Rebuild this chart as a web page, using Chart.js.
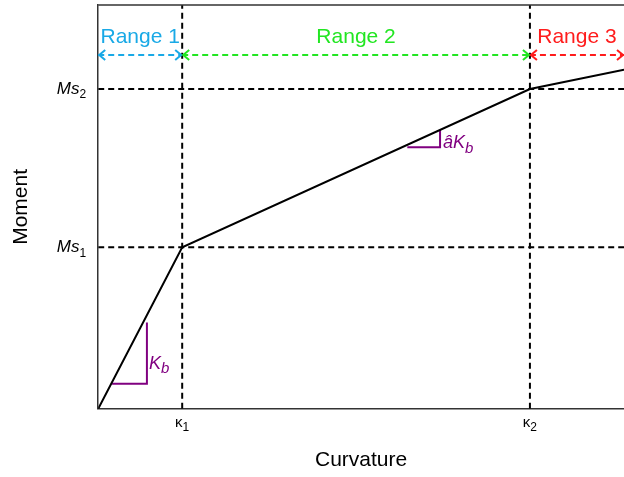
<!DOCTYPE html>
<html>
<head>
<meta charset="utf-8">
<script src="https://cdn.jsdelivr.net/npm/chart.js@4.4.1/dist/chart.umd.min.js"></script>
<style>
  html, body { margin: 0; padding: 0; background: #fff; }
  #wrap { width: 624px; height: 477px; position: relative; }
</style>
</head>
<body>
<div id="wrap"><canvas id="mk"></canvas></div>
<script>
// moment-curvature backbone (normalised so that kappa1 = 1 and Ms1 = 1)
const curveX = [0, 1, 5.14, 6.26];
const curveY = [0, 1, 1.98, 2.10];

// characteristic points on the axes
const kappaTicks = [1, 5.14];
const kappaSubs = ['1', '2'];
const momentTicks = [1, 1.98];
const momentSubs = ['1', '2'];

// ranges shown along the top
const rangeNames = ['Range 1', 'Range 2', 'Range 3'];
const rangeStart = [0, 1, 5.14];
const rangeEnd = [1, 5.14, 6.26];
const rangeColors = ['#19a9e6', '#22e622', '#ff1c1c'];
const rangeLevel = 2.19;

// slope triangles: horizontal leg [x0, x1] at y0, vertical leg up to y1
const kbX = [0.165, 0.58];
const kbY = [0.155, 0.534];
const akbX = [3.68, 4.07];
const akbY = [1.62, 1.727];

const xMax = 6.26;
const yMax = 2.5;

const family = '"Liberation Sans", Arial, sans-serif';
const axisColor = '#333';
const purple = '#800080';

function arrowHead(ctx, px, py, dir) {
    ctx.beginPath();
    ctx.moveTo(px - dir * 6, py - 5);
    ctx.lineTo(px, py);
    ctx.lineTo(px - dir * 6, py + 5);
    ctx.stroke();
}

function subText(ctx, main, sub, px, py, size, subSize, italic, subItalic, align) {
    const mf = (italic ? 'italic ' : '') + size + 'px ' + family;
    const sf = (subItalic ? 'italic ' : '') + subSize + 'px ' + family;
    ctx.font = mf;
    const mw = ctx.measureText(main).width;
    ctx.font = sf;
    const sw = ctx.measureText(sub).width;
    let start = px;
    if (align === 'right') start = px - mw - sw;
    if (align === 'center') start = px - (mw + sw) / 2;
    ctx.textAlign = 'left';
    ctx.textBaseline = 'alphabetic';
    ctx.font = mf;
    ctx.fillText(main, start, py);
    ctx.font = sf;
    ctx.fillText(sub, start + mw, py + size * 0.26);
}

const annotations = {
    id: 'annotations',
    afterDatasetsDraw(chart) {
        const { ctx, chartArea, scales: { x, y } } = chart;
        ctx.save();

        // top frame line
        ctx.strokeStyle = axisColor;
        ctx.lineWidth = 1.5;
        ctx.beginPath();
        ctx.moveTo(chartArea.left, chartArea.top);
        ctx.lineTo(chartArea.right, chartArea.top);
        ctx.stroke();

        // arrow heads and range names
        const ay = y.getPixelForValue(rangeLevel);
        rangeNames.forEach((name, i) => {
            const x0 = x.getPixelForValue(rangeStart[i]);
            const x1 = x.getPixelForValue(rangeEnd[i]);
            ctx.strokeStyle = rangeColors[i];
            ctx.lineWidth = 2;
            arrowHead(ctx, x0 + 1, ay, -1);
            arrowHead(ctx, x1 - 1, ay, 1);
            ctx.fillStyle = rangeColors[i];
            ctx.font = '21px ' + family;
            ctx.textAlign = 'center';
            ctx.textBaseline = 'alphabetic';
            ctx.fillText(name, (x0 + x1) / 2, ay - 12);
        });

        // axis labels for the characteristic points
        ctx.fillStyle = '#000';
        kappaTicks.forEach((k, i) => {
            subText(ctx, 'κ', kappaSubs[i], x.getPixelForValue(k), chartArea.bottom + 18, 15, 12, false, false, 'center');
        });
        momentTicks.forEach((m, i) => {
            subText(ctx, 'Ms', momentSubs[i], chartArea.left - 12, y.getPixelForValue(m) + 5, 17, 12, true, false, 'right');
        });

        // slope labels
        ctx.fillStyle = purple;
        subText(ctx, 'K', 'b', x.getPixelForValue(kbX[1]) + 2,
            y.getPixelForValue(kbY[0]) - 15, 18, 15, true, true, 'left');
        subText(ctx, 'âK', 'b', x.getPixelForValue(akbX[1]) + 3,
            y.getPixelForValue(akbY[0]) + 1, 18, 15, true, true, 'left');

        ctx.restore();
    }
};

const line = (data, color, dash, width) => ({
    data: data,
    showLine: true,
    borderColor: color,
    borderWidth: width,
    borderDash: dash,
    pointRadius: 0,
    fill: false,
    tension: 0
});

const datasets = [
    line(curveX.map((v, i) => ({ x: v, y: curveY[i] })), '#000', [], 2),
    line([{ x: kbX[0], y: kbY[0] }, { x: kbX[1], y: kbY[0] }, { x: kbX[1], y: kbY[1] }], purple, [], 2),
    line([{ x: akbX[0], y: akbY[0] }, { x: akbX[1], y: akbY[0] }, { x: akbX[1], y: akbY[1] }], purple, [], 2)
];
kappaTicks.forEach(k => datasets.push(line([{ x: k, y: 0 }, { x: k, y: yMax }], '#000', [6, 4], 2)));
momentTicks.forEach(m => datasets.push(line([{ x: 0, y: m }, { x: xMax, y: m }], '#000', [6, 4], 2)));
rangeNames.forEach((n, i) => datasets.push(
    line([{ x: rangeStart[i], y: rangeLevel }, { x: rangeEnd[i], y: rangeLevel }], rangeColors[i], [6, 4], 2)));

new Chart(document.getElementById('mk'), {
    type: 'scatter',
    data: { datasets: datasets },
    options: {
        responsive: true,
        maintainAspectRatio: false,
        animation: false,
        layout: { padding: { top: 5, right: 0, bottom: 0, left: 0 } },
        plugins: {
            legend: { display: false },
            tooltip: { enabled: false }
        },
        scales: {
            x: {
                type: 'linear',
                min: 0,
                max: xMax,
                grid: { display: false, drawTicks: false, tickLength: 0 },
                border: { display: true, color: axisColor, width: 1.5 },
                ticks: { display: false },
                title: {
                    display: true,
                    text: 'Curvature',
                    color: '#000',
                    font: { size: 21, family: family },
                    padding: { top: 39, bottom: 4 }
                }
            },
            y: {
                type: 'linear',
                min: 0,
                max: yMax,
                grid: { display: false, drawTicks: false, tickLength: 0 },
                border: { display: true, color: axisColor, width: 1.5 },
                ticks: { display: false },
                title: {
                    display: true,
                    text: 'Moment',
                    color: '#000',
                    font: { size: 21, family: family },
                    padding: { top: 9, bottom: 64 }
                }
            }
        }
    },
    plugins: [annotations]
});
</script>
</body>
</html>
